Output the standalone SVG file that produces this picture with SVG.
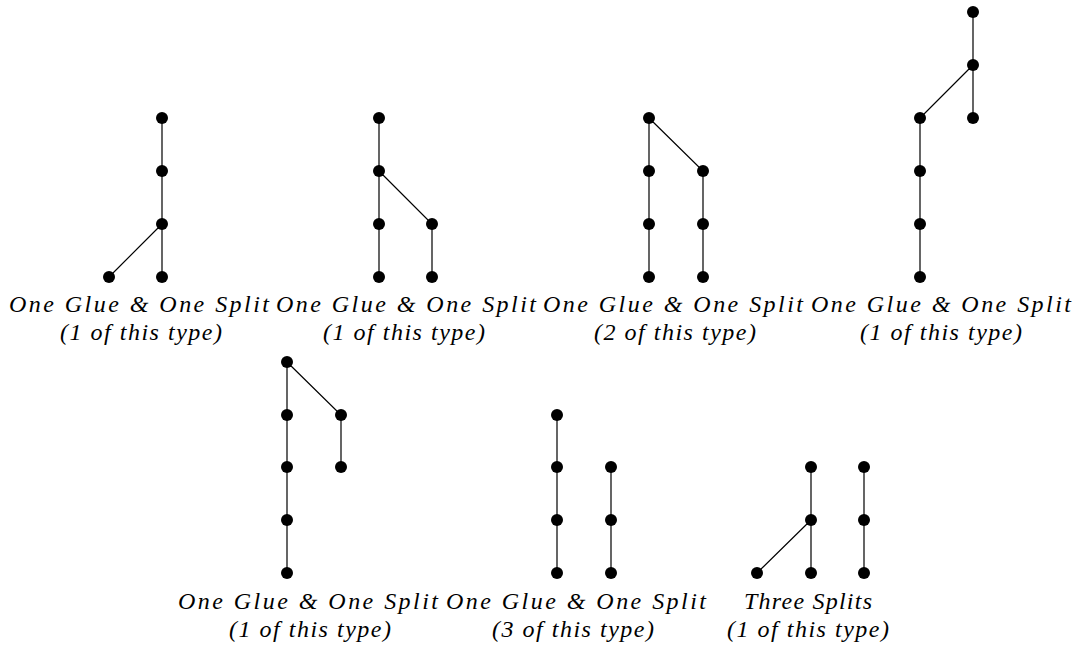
<svg xmlns="http://www.w3.org/2000/svg" width="1083" height="653" viewBox="0 0 1083 653">
<style>
.e{stroke:#000;stroke-width:1.2;fill:none}
.n{fill:#000}
.l text{font-family:'Liberation Serif','DejaVu Serif',serif;font-style:italic;font-size:24px;fill:#000;text-anchor:middle}
</style>
<rect width="1083" height="653" fill="#fff"/>
<g id="connectors" class="e">
<path d="M162,118V277M162,224L109,277"/>
<path d="M379,118V277M379,171L432,224V277"/>
<path d="M649,118V277M649,118L703,171V277"/>
<path d="M973,12V118M973,65L920,118V277"/>
<path d="M287,362V573M287,362L341,415V467"/>
<path d="M557,415V573M611,467V573"/>
<path d="M811,467V573M811,520L757,573M864,467V573"/>
</g>
<g id="tree1" class="n"><circle cx="162" cy="118" r="6"/><circle cx="162" cy="171" r="6"/><circle cx="162" cy="224" r="6"/><circle cx="162" cy="277" r="6"/><circle cx="109" cy="277" r="6"/></g>
<g id="tree2" class="n"><circle cx="379" cy="118" r="6"/><circle cx="379" cy="171" r="6"/><circle cx="379" cy="224" r="6"/><circle cx="379" cy="277" r="6"/><circle cx="432" cy="224" r="6"/><circle cx="432" cy="277" r="6"/></g>
<g id="tree3" class="n"><circle cx="649" cy="118" r="6"/><circle cx="649" cy="171" r="6"/><circle cx="649" cy="224" r="6"/><circle cx="649" cy="277" r="6"/><circle cx="703" cy="171" r="6"/><circle cx="703" cy="224" r="6"/><circle cx="703" cy="277" r="6"/></g>
<g id="tree4" class="n"><circle cx="973" cy="12" r="6"/><circle cx="973" cy="65" r="6"/><circle cx="973" cy="118" r="6"/><circle cx="920" cy="118" r="6"/><circle cx="920" cy="171" r="6"/><circle cx="920" cy="224" r="6"/><circle cx="920" cy="277" r="6"/></g>
<g id="tree5" class="n"><circle cx="287" cy="362" r="6"/><circle cx="287" cy="415" r="6"/><circle cx="287" cy="467" r="6"/><circle cx="287" cy="520" r="6"/><circle cx="287" cy="573" r="6"/><circle cx="341" cy="415" r="6"/><circle cx="341" cy="467" r="6"/></g>
<g id="tree6" class="n"><circle cx="557" cy="415" r="6"/><circle cx="557" cy="467" r="6"/><circle cx="557" cy="520" r="6"/><circle cx="557" cy="573" r="6"/><circle cx="611" cy="467" r="6"/><circle cx="611" cy="520" r="6"/><circle cx="611" cy="573" r="6"/></g>
<g id="tree7" class="n"><circle cx="811" cy="467" r="6"/><circle cx="811" cy="520" r="6"/><circle cx="811" cy="573" r="6"/><circle cx="757" cy="573" r="6"/><circle cx="864" cy="467" r="6"/><circle cx="864" cy="520" r="6"/><circle cx="864" cy="573" r="6"/></g>
<g id="labels" class="l">
<text x="139" y="312" textLength="260">One Glue &amp; One Split</text>
<text x="141" y="340" textLength="162">(1 of this type)</text>
<text x="406" y="312" textLength="260">One Glue &amp; One Split</text>
<text x="404" y="340" textLength="162">(1 of this type)</text>
<text x="673" y="312" textLength="260">One Glue &amp; One Split</text>
<text x="675" y="340" textLength="162">(2 of this type)</text>
<text x="941" y="312" textLength="260">One Glue &amp; One Split</text>
<text x="941" y="340" textLength="162">(1 of this type)</text>
<text x="308" y="609" textLength="260">One Glue &amp; One Split</text>
<text x="310" y="637" textLength="162">(1 of this type)</text>
<text x="576" y="609" textLength="260">One Glue &amp; One Split</text>
<text x="573" y="637" textLength="162">(3 of this type)</text>
<text x="808" y="609" textLength="128">Three Splits</text>
<text x="808" y="637" textLength="162">(1 of this type)</text>
</g>
</svg>
